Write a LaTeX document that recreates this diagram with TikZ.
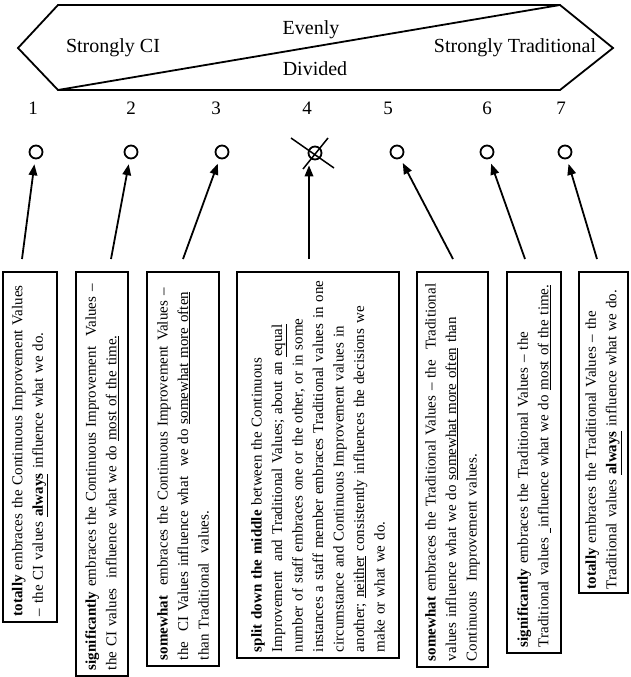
\documentclass[tikz,border=0pt]{standalone}
\usepackage{fontspec}
\setmainfont{Liberation Serif}
\usetikzlibrary{arrows.meta}
\frenchspacing

\tikzset{
  frame/.style={line width=1.8pt, line join=miter},
  hdr/.style={inner sep=0pt, font=\fontsize{20}{24}\selectfont},
  num/.style={inner sep=0pt, font=\fontsize{19}{23}\selectfont},
  ring/.style={circle, draw, line width=1.8pt, minimum size=13pt, inner sep=0pt},
  xmark/.style={line width=1.5pt},
  pointer/.style={line width=1.8pt, shorten >=5pt, -{Triangle[length=11pt,width=8.5pt]}},
  desc/.style={draw, line width=1.6pt, rotate=90, inner xsep=6pt, inner ysep=0pt,
    align=left, anchor=center, font=\fontsize{15}{20.5}\selectfont}
}

\begin{document}
\begin{tikzpicture}[x=1pt, y=-1pt]
\useasboundingbox (0,0) rectangle (631,677);

% ---- scale banner ----
\coordinate (hl)  at (18,48);
\coordinate (htl) at (58,5);
\coordinate (htr) at (560,5);
\coordinate (hr)  at (613,48);
\coordinate (hbr) at (560,90);
\coordinate (hbl) at (58,90);
\draw[frame] (hl) -- (htl) -- (htr) -- (hr) -- (hbr) -- (hbl) -- cycle;
\draw[frame] (hbl) -- (htr);

\node[hdr] (sci)  at (113,48) {Strongly CI};
\node[hdr] (even) at (311,30) {Evenly};
\node[hdr] (divd) at (315,69) {Divided};
\node[hdr] (stra) at (515,48) {Strongly Traditional};

% ---- scale points ----
\node[num] (n1) at (33,108)  {1};
\node[num] (n2) at (131,108) {2};
\node[num] (n3) at (216,108) {3};
\node[num] (n4) at (307,108) {4};
\node[num] (n5) at (388,108) {5};
\node[num] (n6) at (487,108) {6};
\node[num] (n7) at (561,108) {7};

\node[ring] (c1) at (36,152)  {};
\node[ring] (c2) at (131,152) {};
\node[ring] (c3) at (222,152) {};
\node[ring] (c4) at (315,153) {};
\node[ring] (c5) at (397,152) {};
\node[ring] (c6) at (487,152) {};
\node[ring] (c7) at (565,152) {};

% cross over the middle point
\draw[xmark] ([shift={(-24,-15)}]c4.center) -- ([shift={(19,15)}]c4.center);
\draw[xmark] ([shift={(13,-15)}]c4.center) -- ([shift={(-12,16)}]c4.center);

% ---- description boxes ----
\node[desc, minimum width=350pt, minimum height=54pt, text width=338pt] (b1) at (30,447)
  {\textbf{totally} embraces the Continuous Improvement Values\\
   -- the CI values \textbf{\underline{always}} influence what we do.};

\node[desc, minimum width=404pt, minimum height=52pt, text width=392pt] (b2) at (102,474)
  {\textbf{significantly} embraces the Continuous Improvement\ \ Values --\\
   the CI values\ \ influence what we do \underline{most of the time.}};

\node[desc, minimum width=394pt, minimum height=72pt, text width=382pt] (b3) at (183,469)
  {\textbf{somewhat}\ \ embraces the Continuous Improvement Values --\\
   the\ \ CI Values influence what\ \ we do \underline{somewhat more often}\\
   than Traditional\ \ values.};

\node[desc, minimum width=386pt, minimum height=162pt, text width=374pt] (b4) at (318,465)
  {\textbf{split down the middle} between the Continuous\\
   Improvement\ \ and Traditional Values; about an \underline{equal}\\
   number of staff embraces one or the other, or in some\\
   instances a staff member embraces Traditional values in one\\
   circumstance and Continuous Improvement values in\\
   another; \underline{neither} consistently influences the decisions we\\
   make or what we do.};

\node[desc, minimum width=395pt, minimum height=71pt, text width=383pt] (b5) at (452.5,469.5)
  {\textbf{somewhat} embraces the Traditional Values -- the\ \ Traditional\\
   values influence what we do \underline{somewhat more often} than\\
   Continuous\ \ Improvement values.};

\node[desc, minimum width=381pt, minimum height=54pt, text width=369pt] (b6) at (534,462.5)
  {\textbf{significantly} embraces the Traditional Values -- the\\
   Traditional values \underline{\ }influence what we do \underline{most of the time.}};

\node[desc, minimum width=321pt, minimum height=49pt, text width=313pt, inner xsep=4pt] (b7) at (603.5,432.5)
  {\textbf{totally} embraces the Traditional Values -- the\\
   \mbox{Traditional values\ \textbf{\underline{always}}\ influence what we do.}};

% ---- pointers from the boxes to the scale ----
\coordinate (t1) at (22,259);
\coordinate (t2) at (111,259);
\coordinate (t3) at (183,259);
\coordinate (t4) at (309,259);
\coordinate (t5) at (453,259);
\coordinate (t6) at (525,259);
\coordinate (t7) at (597,259);

\draw[pointer] (t1) -- (c1);
\draw[pointer] (t2) -- (c2);
\draw[pointer] (t3) -- (c3);
\draw[pointer] (t4) -- (t4 |- c4.south);
\draw[pointer] (t5) -- (c5);
\draw[pointer] (t6) -- (c6);
\draw[pointer] (t7) -- (c7);
\end{tikzpicture}
\end{document}
